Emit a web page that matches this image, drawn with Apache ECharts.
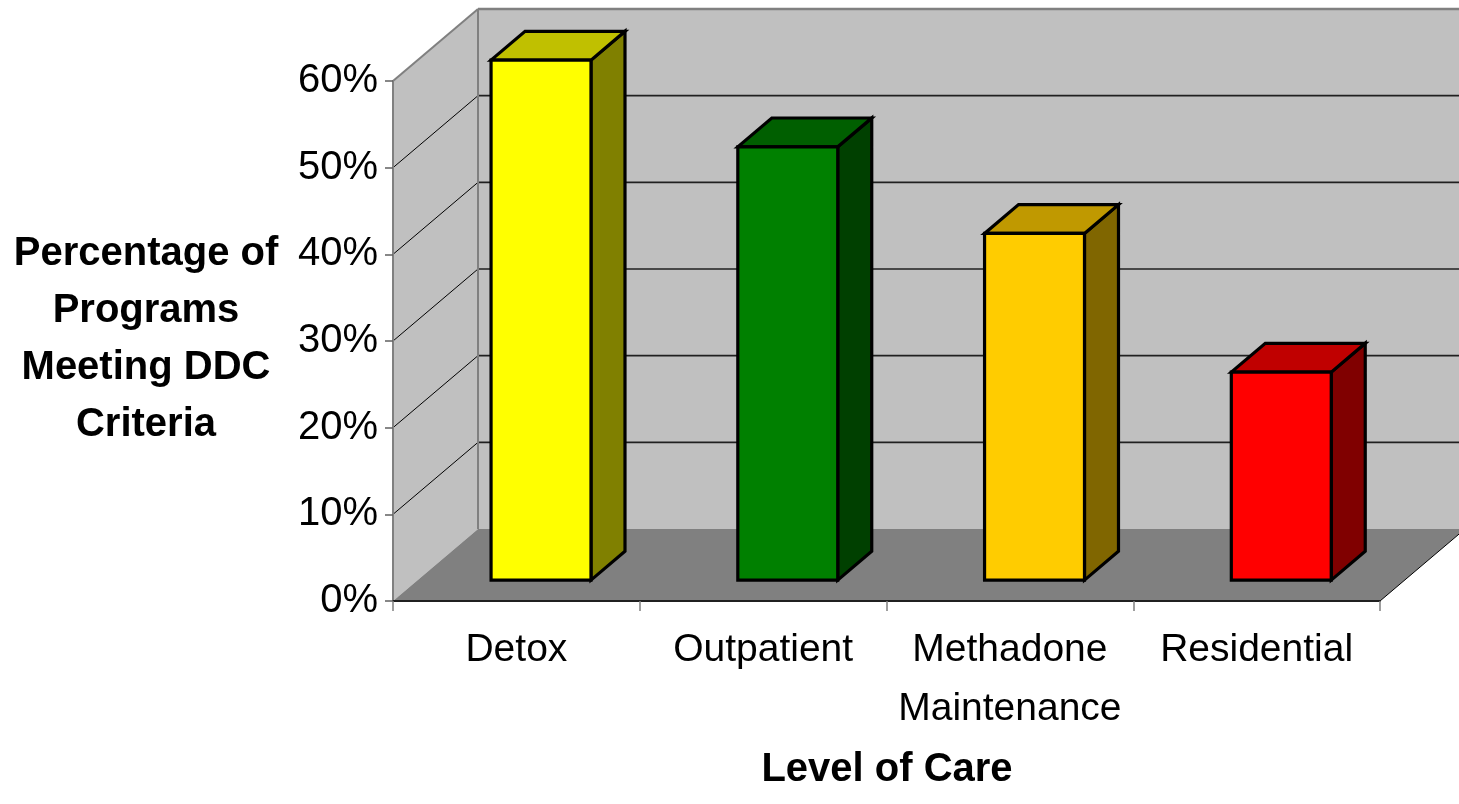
<!DOCTYPE html>
<html>
<head>
<meta charset="utf-8">
<script src="https://cdn.jsdelivr.net/npm/echarts@6/dist/echarts.min.js"></script>
<style>
html,body{margin:0;padding:0;background:#fff;}
#main{width:1459px;height:804px;}
</style>
</head>
<body>
<div id="main"></div>
<script>
// ---- data ----
const categories = ['Detox', 'Outpatient', 'Methadone\nMaintenance', 'Residential'];
const values = [0.60, 0.50, 0.40, 0.24];
const yTicks = [0, 0.1, 0.2, 0.3, 0.4, 0.5, 0.6];
const yTickLabels = ['0%', '10%', '20%', '30%', '40%', '50%', '60%'];

// ---- styles ----
const frontColors = ['#FFFF00', '#008000', '#FFCC00', '#FF0000'];
const topColors   = ['#C0C000', '#005F00', '#C09900', '#C00000'];
const sideColors  = ['#808000', '#004000', '#806600', '#800000'];
const DX = 85, DY = -72;          // depth vector of the plot box
const FRONT = 0.29, DEPTH = 0.40; // bar placement in depth
const BARW = 0.405;               // bar width relative to band
const FONT = 'Liberation Sans, Arial, sans-serif';

const chart = echarts.init(document.getElementById('main'));

function renderWalls(params, api) {
  const cs = params.coordSys;
  const x0 = cs.x, x1 = cs.x + cs.width;
  const yb = api.coord([0, yTicks[0]])[1];
  const yt = api.coord([0, yTicks[yTicks.length - 1]])[1];
  const children = [];
  children.push({type: 'polygon', shape: {points: [[x0, yb], [x0 + DX, yb + DY], [x0 + DX, yt + DY], [x0, yt]]},
    style: {fill: '#C0C0C0', stroke: null}});
  children.push({type: 'rect', shape: {x: x0 + DX, y: yt + DY, width: x1 - x0, height: yb - yt},
    style: {fill: '#C0C0C0', stroke: null}});
  children.push({type: 'polygon', shape: {points: [[x0, yb], [x1, yb], [x1 + DX, yb + DY], [x0 + DX, yb + DY]]},
    style: {fill: '#808080', stroke: null}});
  for (let i = 1; i < yTicks.length; i++) {
    const y = api.coord([0, yTicks[i]])[1];
    const last = i === yTicks.length - 1;
    children.push({type: 'line', shape: {x1: x0, y1: y, x2: x0 + DX, y2: y + DY},
      style: {stroke: last ? '#808080' : '#000', lineWidth: last ? 2 : 1}});
    children.push({type: 'line', shape: {x1: x0 + DX, y1: y + DY, x2: x1 + DX, y2: y + DY},
      style: {stroke: last ? '#808080' : '#202020', lineWidth: last ? 2.5 : 1.6}});
  }
  children.push({type: 'line', shape: {x1: x0 + DX, y1: yt + DY, x2: x0 + DX, y2: yb + DY},
    style: {stroke: '#808080', lineWidth: 2}});
  children.push({type: 'line', shape: {x1: x1, y1: yb, x2: x1 + DX, y2: yb + DY},
    style: {stroke: '#000', lineWidth: 1}});
  return {type: 'group', children: children};
}

function renderBar(params, api) {
  const idx = params.dataIndex;
  const cat = api.value(0), v = api.value(1);
  const base = api.coord([cat, 0]);
  const top = api.coord([cat, v]);
  const band = api.size([1, 0])[0];
  const w = band * BARW;
  const fx = FRONT * DX, fy = FRONT * DY;
  const dx = DEPTH * DX, dy = DEPTH * DY;
  const L = base[0] - w / 2 + fx, R = L + w;
  const B = base[1] + fy, T = top[1] + fy;
  const st = {stroke: '#000', lineWidth: 3.2, lineJoin: 'miter'};
  return {type: 'group', children: [
    {type: 'polygon', shape: {points: [[R, B], [R + dx, B + dy], [R + dx, T + dy], [R, T]]},
      style: Object.assign({fill: sideColors[idx]}, st)},
    {type: 'polygon', shape: {points: [[L, T], [R, T], [R + dx, T + dy], [L + dx, T + dy]]},
      style: Object.assign({fill: topColors[idx]}, st)},
    {type: 'rect', shape: {x: L, y: T, width: w, height: B - T},
      style: Object.assign({fill: frontColors[idx]}, st)}
  ]};
}

chart.setOption({
  animation: false,
  backgroundColor: '#fff',
  grid: {left: 393, right: 79, top: 81, bottom: 203, containLabel: false},
  xAxis: {
    type: 'category',
    data: categories,
    z: 5,
    axisLine: {lineStyle: {color: '#202020', width: 2}},
    axisTick: {show: true, length: 10, lineStyle: {color: '#808080', width: 1.5}},
    axisLabel: {fontSize: 39, color: '#000', fontFamily: FONT, margin: 20, lineHeight: 59, interval: 0},
    splitLine: {show: false}
  },
  yAxis: {
    type: 'value',
    min: yTicks[0],
    max: yTicks[yTicks.length - 1],
    interval: 0.1,
    z: 5,
    axisLine: {show: true, lineStyle: {color: '#808080', width: 2}},
    axisTick: {show: true, length: 8, lineStyle: {color: '#606060', width: 1.5}},
    axisLabel: {
      fontSize: 40, color: '#000', fontFamily: FONT, margin: 15,
      formatter: function (val) {
        const i = yTicks.findIndex(t => Math.abs(t - val) < 1e-9);
        return i >= 0 ? yTickLabels[i] : '';
      }
    },
    splitLine: {show: false}
  },
  graphic: [
    {type: 'text', x: 146, y: 339, style: {
      text: 'Percentage of\nPrograms\nMeeting DDC\nCriteria',
      font: 'bold 40px ' + FONT, fill: '#000', textAlign: 'center', textVerticalAlign: 'middle', lineHeight: 57}},
    {type: 'text', x: 887, y: 770, style: {
      text: 'Level of Care', font: 'bold 40px ' + FONT, fill: '#000',
      textAlign: 'center', textVerticalAlign: 'middle'}}
  ],
  series: [
    {type: 'custom', z: 1, silent: true, renderItem: renderWalls, data: [[0, 0]]},
    {type: 'custom', z: 3, renderItem: renderBar, encode: {x: 0, y: 1},
      data: values.map((v, i) => [i, v])}
  ]
});
</script>
</body>
</html>
